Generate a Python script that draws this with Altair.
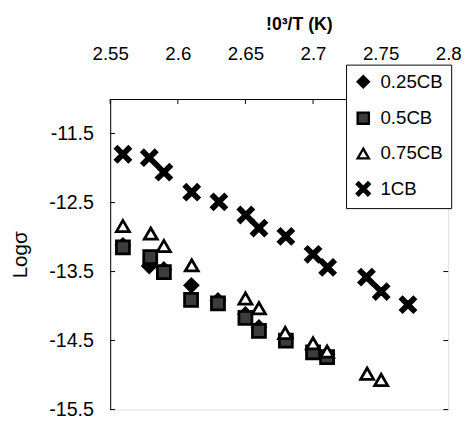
import altair as alt
import pandas as pd

series_names = ["0.25CB", "0.5CB", "0.75CB", "1CB"]

x_025 = [2.5594, 2.5789, 2.5897, 2.6100, 2.6297, 2.6500, 2.6600, 2.6799, 2.7000, 2.7104]
y_025 = [-13.12, -13.42, -13.47, -13.70, -13.92, -14.12, -14.31, -14.46, -14.63, -14.70]

x_05 = [2.5594, 2.5796, 2.5897, 2.6098, 2.6297, 2.6500, 2.6600, 2.6799, 2.7000, 2.7104]
y_05 = [-13.15, -13.29, -13.51, -13.91, -13.96, -14.17, -14.36, -14.50, -14.67, -14.74]

x_075 = [2.5594, 2.5800, 2.5897, 2.6103, 2.6500, 2.6600, 2.6794, 2.7000, 2.7104, 2.7400, 2.7504]
y_075 = [-12.84, -12.95, -13.13, -13.41, -13.89, -14.03, -14.39, -14.54, -14.66, -14.98, -15.07]

x_1 = [2.5594, 2.5789, 2.5897, 2.6103, 2.6304, 2.6503, 2.6600, 2.6799, 2.7000, 2.7108, 2.7395, 2.7504, 2.7702]
y_1 = [-11.80, -11.85, -12.06, -12.35, -12.49, -12.68, -12.87, -12.99, -13.25, -13.44, -13.58, -13.79, -13.98]

x_ticks = [2.55, 2.6, 2.65, 2.7, 2.75, 2.8]
y_ticks = [-11.5, -12.5, -13.5, -14.5, -15.5]

rows = []
for name, xs, ys in zip(series_names, [x_025, x_05, x_075, x_1], [y_025, y_05, y_075, y_1]):
    for a, b in zip(xs, ys):
        rows.append({"series": name, "x": a, "y": b})
df = pd.DataFrame(rows)

X_PATH = ("M-1.15,-0.83 L-0.83,-1.15 L0,-0.32 L0.83,-1.15 L1.15,-0.83 L0.32,0 "
          "L1.15,0.83 L0.83,1.15 L0,0.32 L-0.83,1.15 L-1.15,0.83 L-0.32,0 Z")

FONT = "Liberation Sans"

xscale = alt.Scale(domain=[2.55, 2.8], nice=False, zero=False)
yscale = alt.Scale(domain=[-15.5, -11.0], nice=False, zero=False)

legend = alt.Legend(title=None, orient="none", legendX=240, legendY=-35,
                    labelFontSize=19, labelFont=FONT, labelColor="black",
                    symbolSize=130, symbolStrokeWidth=2.4, rowPadding=14,
                    padding=8, fillColor="white", strokeColor="black",
                    labelOffset=8, zindex=5)

points = alt.Chart(df).mark_point(filled=True, strokeWidth=2.8, opacity=1, size=175).encode(
    x=alt.X("x:Q", scale=xscale,
            axis=alt.Axis(orient="top", values=x_ticks, title="!0³/T (K)", ticks=False,
                          labelExpr="toString(datum.value)",
                          labelFontSize=19, labelFont=FONT, labelColor="black",
                          labelPadding=36, titleFont=FONT, titleFontSize=18,
                          titleFontWeight="bold", titleColor="black", titlePadding=12,
                          titleX=192, domainColor="black", grid=False,
                          labelFlush=False, labelOverlap=False)),
    y=alt.Y("y:Q", scale=yscale,
            axis=alt.Axis(values=y_ticks, title="Logσ", ticks=False,
                          labelExpr="toString(datum.value)",
                          labelFontSize=20, labelFont=FONT, labelColor="black",
                          labelPadding=17, titleFont=FONT, titleFontSize=21,
                          titleFontWeight="normal", titleColor="black", titlePadding=19,
                          domainColor="black", grid=False, labelFlush=False,
                          labelOverlap=False)),
    shape=alt.Shape("series:N",
                    scale=alt.Scale(domain=series_names,
                                    range=["diamond", "square", "triangle-up", X_PATH]),
                    legend=legend),
    fill=alt.Fill("series:N",
                  scale=alt.Scale(domain=series_names,
                                  range=["black", "#3c3c3c", "white", "black"]),
                  legend=legend),
    stroke=alt.Stroke("series:N",
                      scale=alt.Scale(domain=series_names,
                                      range=["black", "black", "black", "black"]),
                      legend=legend),
)

ytick_df = pd.DataFrame({"v": y_ticks})
xtick_df = pd.DataFrame({"v": x_ticks})

left_ticks = alt.Chart(ytick_df).mark_rule(color="black", strokeWidth=1).encode(
    y=alt.Y("v:Q", scale=yscale), x=alt.value(0), x2=alt.value(5))
right_ticks = alt.Chart(ytick_df).mark_rule(color="black", strokeWidth=1).encode(
    y=alt.Y("v:Q", scale=yscale), x=alt.value(339), x2=alt.value(344))
top_ticks = alt.Chart(xtick_df).mark_rule(color="black", strokeWidth=1).encode(
    x=alt.X("v:Q", scale=xscale), y=alt.value(0), y2=alt.value(5))

chart = alt.layer(left_ticks, right_ticks, top_ticks, points).properties(
    width=344, height=316,
    autosize="none",
    padding={"left": 104, "top": 89, "right": 15, "bottom": 8},
).configure_view(stroke="black", strokeWidth=1).configure(background="white")

chart.save("out.html", embed_options={"renderer": "svg", "actions": False})
